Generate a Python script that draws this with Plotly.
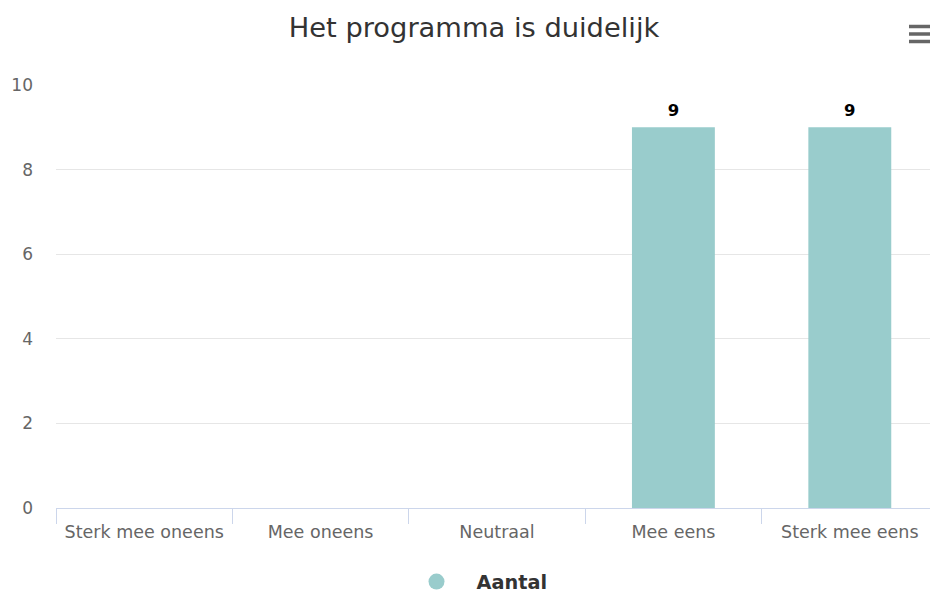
import plotly.graph_objects as go

categories = ["Sterk mee oneens", "Mee oneens", "Neutraal", "Mee eens", "Sterk mee eens"]
values = [0, 0, 0, 9, 9]
series_name = "Aantal"
title_text = "Het programma is duidelijk"
y_ticks = [0, 2, 4, 6, 8, 10]

BAR_COLOR = "#99cccc"
FONT = "DejaVu Sans"

# page has an 8px body margin, so the figure is sized to fill the rest
OFF = 8
W, H = 938 - OFF, 595 - OFF
ML, MR, MT, MB = 56 - OFF, 0, 85 - OFF, 595 - 508
PW, PH = W - ML - MR, H - MT - MB

fig = go.Figure()
fig.add_trace(go.Bar(
    x=categories, y=values, name=series_name,
    marker=dict(color=BAR_COLOR, line=dict(width=0)),
    width=0.47,
    showlegend=False,
    hoverinfo="x+y",
))
# data labels above the non-zero bars
lbl_x = [c for c, v in zip(categories, values) if v]
lbl_y = [v for v in values if v]
fig.add_trace(go.Scatter(
    x=lbl_x, y=lbl_y, mode="markers+text",
    text=[str(v) for v in lbl_y], textposition="top center",
    textfont=dict(family=FONT, size=16.5, color="#000000", weight="bold"),
    marker=dict(size=10, opacity=0),
    cliponaxis=False, showlegend=False, hoverinfo="skip",
))
# legend entry with circle symbol
fig.add_trace(go.Scatter(
    x=[categories[0]], y=[None], mode="markers", name=series_name,
    marker=dict(symbol="circle", size=18, color=BAR_COLOR),
    showlegend=True,
))

def px2x(px):
    return (px - OFF - ML) / PW

def py2y(py):
    return (H - MB - (py - OFF)) / PH

shapes = []
for py in (26.5, 34, 41.5):
    shapes.append(dict(type="line", xref="paper", yref="paper",
                       x0=px2x(909), x1=px2x(934), y0=py2y(py), y1=py2y(py),
                       line=dict(color="#666666", width=3.5)))

fig.update_layout(
    width=W, height=H,
    margin=dict(l=ML, r=MR, t=MT, b=MB),
    paper_bgcolor="#ffffff", plot_bgcolor="#ffffff",
    font=dict(family=FONT, color="#666666"),
    title=dict(text=title_text, x=(474 - OFF) / W, xanchor="center", xref="container",
               y=1 - (27 - OFF) / H, yref="container", yanchor="middle",
               font=dict(family=FONT, size=27.3, color="#333333")),
    bargap=0.53,
    shapes=shapes,
    legend=dict(orientation="h", x=(474.5 - OFF) / W, xanchor="center", xref="container",
                y=1 - (582 - OFF) / H, yref="container", yanchor="middle",
                font=dict(family=FONT, size=19.3, color="#333333", weight="bold"),
                itemwidth=70),
    xaxis=dict(
        type="category", categoryorder="array", categoryarray=categories,
        showline=True, linecolor="#ccd6eb", linewidth=1,
        ticks="outside", tickson="boundaries", ticklen=15, tickcolor="#ccd6eb",
        tickfont=dict(family=FONT, size=17.5, color="#666666"),
        ticklabelstandoff=8,
        showgrid=False, zeroline=False,
    ),
    yaxis=dict(
        range=[0, 10], tickvals=y_ticks,
        showgrid=True, gridcolor="#e6e6e6", gridwidth=1,
        zeroline=False, showline=False,
        tickfont=dict(family=FONT, size=17, color="#666666"),
        ticklabelstandoff=22,
    ),
)

fig.write_html("out.html")
